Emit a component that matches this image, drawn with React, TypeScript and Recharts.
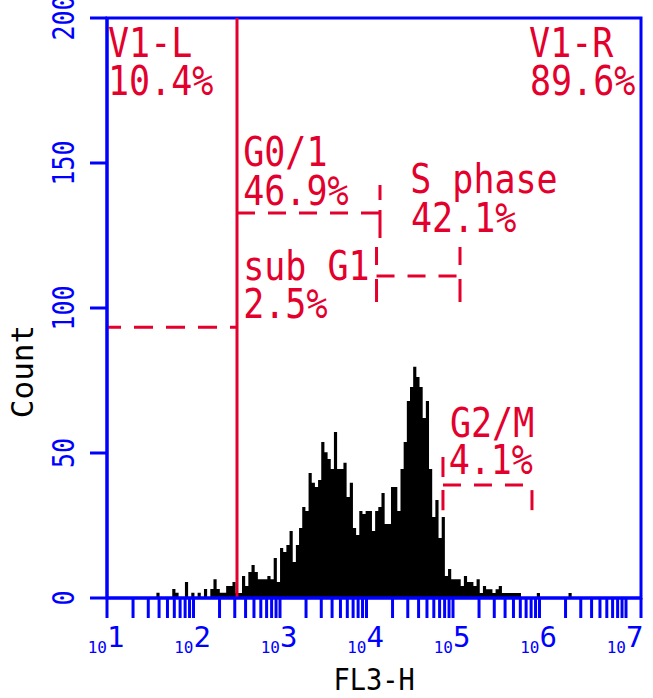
import React from 'react';
import {
  ComposedChart,
  Area,
  XAxis,
  YAxis,
  ReferenceLine,
  ReferenceArea,
  ReferenceDot,
} from 'recharts';

const BLUE = '#0000ff';
const RED = '#e3002d';
const MONO = '"DejaVu Sans Mono", "Liberation Mono", monospace';

// Histogram channels (log10 of FL3-H), counts
const BIN_START = 1.5712; // log10 of the first channel's left edge
const BIN_WIDTH = 0.036647; // decades per channel
const COUNTS = [
  1.8, 0, 0, 0, 0, 3.1, 1.8, 0, 0, 5.5, 0, 1.8, 0, 1.8, 0, 3.1, 0, 3.1, 6.5, 3.1, 1.8, 1.8, 4.1, 4.1, 5.5, 1.7, 1.7,
  7.6, 4.1, 9, 11.4, 9, 6.5, 6.5, 6.5, 7.6, 6.5,
  13.8, 5.5, 17.2, 15.9, 18.3, 23.1, 12.4, 18.3, 24.1, 31.4,
  30, 43.1, 39.7, 38.3, 40.7, 53.8, 50.3, 47.9, 44.5, 57.2,
  44.5, 44.5, 46.6, 34.8, 39.7, 24.1, 21.7, 30, 29, 30,
  30, 23.1, 30, 31.4, 36.2, 25.5, 25.5, 38.3, 38.3, 30,
  44.5, 53.8, 67.9, 72.8, 79.7, 76.2, 72.8, 62.1, 67.9, 44.5,
  27.9, 33.8, 20.7, 27.9, 7.6, 10,
  6.5, 6.5, 6.5, 4.1,
  7.6, 5.5, 5.5, 4.1, 6.5, 1.7, 4.1, 3, 3, 1.7,
  3, 4.1, 1.7, 1.7, 1.7, 1.7, 1.7, 1.7, 0, 0,
  0, 0, 0, 1.7, 0, 0, 0, 0, 0, 0,
  0, 0, 0, 1.7,
];

// Axes
const X_MIN = 1;
const X_MAX = 7.1734;
const DECADES = [1, 2, 3, 4, 5, 6, 7];
const MINOR_MULTIPLIERS = [2, 3, 4, 5, 6, 7, 8, 9];
const Y_TICKS = [0, 50, 100, 150, 200];
const Y_DOMAIN_MAX = 200;

// Marker gate V1 (log10 position)
const V1_POS = 2.503;

// Range gates: endpoints in (log10 FL3-H, count)
const GATE_LINES = [
  { id: 'subG1', x1: 2.503, y1: 93.4, x2: 1, y2: 93.4 },
  { id: 'g01h', x1: 2.503, y1: 132.8, x2: 4.156, y2: 132.8 },
  { id: 'g01v', x1: 4.156, y1: 142.4, x2: 4.156, y2: 124.1 },
  { id: 'sh', x1: 4.116, y1: 111.0, x2: 5.081, y2: 111.0 },
  { id: 'sl', x1: 4.116, y1: 121.0, x2: 4.116, y2: 102.1 },
  { id: 'sr', x1: 5.081, y1: 121.0, x2: 5.081, y2: 102.1 },
  { id: 'g2h', x1: 4.884, y1: 39.0, x2: 5.913, y2: 39.0 },
  { id: 'g2l', x1: 4.884, y1: 48.6, x2: 4.884, y2: 30.3 },
  { id: 'g2r', x1: 5.913, y1: 37.2, x2: 5.913, y2: 30.3 },
];

// Gate annotation texts, anchored at (log10 FL3-H, count) of their baseline start
const ANNOTATIONS = [
  { text: 'V1-L', x: 1.012, y: 186.6 },
  { text: '10.4%', x: 1.012, y: 173.4 },
  { text: 'V1-R', x: 5.88, y: 186.6 },
  { text: '89.6%', x: 5.89, y: 173.4 },
  { text: 'G0/1', x: 2.575, y: 149.0 },
  { text: '46.9%', x: 2.575, y: 135.5 },
  { text: 'S phase', x: 4.505, y: 139.7 },
  { text: '42.1%', x: 4.515, y: 126.2 },
  { text: 'sub G1', x: 2.575, y: 109.7 },
  { text: '2.5%', x: 2.575, y: 96.6 },
  { text: 'G2/M', x: 4.965, y: 55.5 },
  { text: '4.1%', x: 4.95, y: 42.8 },
];

const X_LABEL = 'FL3-H';
const Y_LABEL = 'Count';

// styles for gate segments
const DASH_STYLE: Record<string, { dash?: string; offset?: number }> = {
  subG1: { dash: '19 13', offset: 12 },
  g01h: { dash: '18 13', offset: 0 },
  g01v: { dash: '15 10 40 10', offset: 0 },
  sh: { dash: '18 13', offset: 0 },
  sl: { dash: '18 14 40 10', offset: 0 },
  sr: { dash: '18 14 40 10', offset: 0 },
  g2h: { dash: '18 13', offset: 0 },
  g2l: { dash: '20 13 40 10', offset: 0 },
  g2r: {},
};

const histData = [
  ...COUNTS.map((c, i) => ({ e: BIN_START + i * BIN_WIDTH, count: c })),
  { e: BIN_START + COUNTS.length * BIN_WIDTH, count: 0 },
];

const xTicks: number[] = [];
DECADES.forEach((d) => {
  xTicks.push(d);
  MINOR_MULTIPLIERS.forEach((m) => {
    const v = d + Math.log10(m);
    if (v <= X_MAX) xTicks.push(v);
  });
});
xTicks.push(X_MAX);

const XTick = (props: any) => {
  const { x, y, payload } = props;
  const v = payload.value;
  const d = Math.round(v);
  if (Math.abs(v - d) > 1e-6 || !DECADES.includes(d)) return <g />;
  return (
    <g>
      <text x={x} y={y + 33} textAnchor="end" fontFamily={MONO} fontSize={16} fill={BLUE}>
        10
      </text>
      <text x={x} y={y + 27} textAnchor="start" fontFamily={MONO} fontSize={29} fill={BLUE}>
        {d}
      </text>
    </g>
  );
};

const YTick = (props: any) => {
  const { x, y, payload } = props;
  return (
    <text
      transform={`translate(${x - 14}, ${y}) rotate(-90) scale(1, 1.2)`}
      textAnchor="middle"
      fontFamily={MONO}
      fontSize={25}
      fill={BLUE}
    >
      {payload.value}
    </text>
  );
};

const XLabel = (props: any) => {
  const vb = props.viewBox || { x: 107, y: 598, width: 534, height: 60 };
  return (
    <text
      transform={`translate(${vb.x + vb.width / 2}, ${vb.y + 92}) scale(1, 1.1)`}
      textAnchor="middle"
      fontFamily={MONO}
      fontSize={27}
      fill="#000"
    >
      {X_LABEL}
    </text>
  );
};

const YLabel = (props: any) => {
  const vb = props.viewBox || { x: 0, y: 18, width: 107, height: 580 };
  return (
    <text
      transform={`translate(${vb.x + 33}, ${vb.y + 353.5}) rotate(-90)`}
      textAnchor="middle"
      fontFamily={MONO}
      fontSize={31}
      fill="#000"
    >
      {Y_LABEL}
    </text>
  );
};

export default function App() {
  return (
    <div style={{ position: 'absolute', left: 0, top: 0, background: '#fff' }}>
      <ComposedChart
        width={653}
        height={698}
        data={histData}
        margin={{ top: 18, right: 12, bottom: 40, left: 0 }}
      >
        <XAxis
          dataKey="e"
          type="number"
          domain={[X_MIN, X_MAX]}
          ticks={xTicks}
          interval={0}
          tickSize={20}
          tick={<XTick />}
          tickLine={{ stroke: BLUE, strokeWidth: 3 }}
          axisLine={{ stroke: BLUE, strokeWidth: 3 }}
          height={60}
          label={<XLabel />}
          allowDataOverflow
        />
        <YAxis
          type="number"
          domain={[0, Y_DOMAIN_MAX]}
          ticks={Y_TICKS}
          interval={0}
          tickSize={17}
          width={107}
          tick={<YTick />}
          tickLine={{ stroke: BLUE, strokeWidth: 3 }}
          axisLine={{ stroke: BLUE, strokeWidth: 3 }}
          label={<YLabel />}
          allowDataOverflow
        />
        <Area
          type="stepAfter"
          dataKey="count"
          stroke="none"
          fill="#000"
          fillOpacity={1}
          dot={false}
          activeDot={false}
          isAnimationActive={false}
        />
        <ReferenceArea
          x1={X_MIN}
          x2={X_MAX}
          y1={0}
          y2={Y_DOMAIN_MAX}
          fill="none"
          fillOpacity={0}
          stroke={BLUE}
          strokeWidth={3}
        />
        <ReferenceLine x={V1_POS} stroke={RED} strokeWidth={3} />
        {GATE_LINES.map((g) => {
          const st = DASH_STYLE[g.id] || {};
          return (
            <ReferenceLine
              key={g.id}
              segment={[
                { x: g.x1, y: g.y1 },
                { x: g.x2, y: g.y2 },
              ]}
              stroke={RED}
              strokeWidth={3}
              strokeDasharray={st.dash}
              strokeDashoffset={st.offset}
            />
          );
        })}
        {ANNOTATIONS.map((a) => (
          <ReferenceDot
            key={a.text}
            x={a.x}
            y={a.y}
            r={0}
            shape={(p: any) => (
              <text
                transform={`translate(${p.cx}, ${p.cy}) scale(1, 1.15)`}
                fontFamily={MONO}
                fontSize={35}
                fill={RED}
              >
                {a.text}
              </text>
            )}
          />
        ))}
      </ComposedChart>
    </div>
  );
}
